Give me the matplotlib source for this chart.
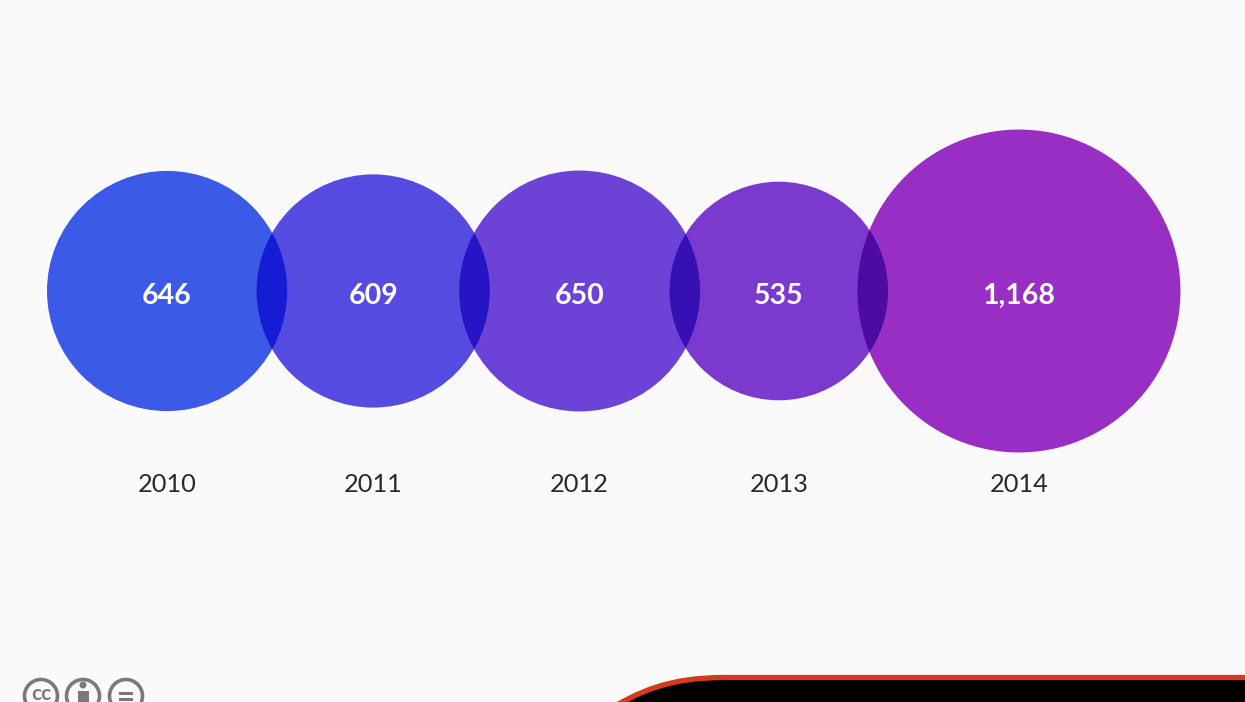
import numpy as np
import matplotlib
matplotlib.use("Agg")
import matplotlib.pyplot as plt
from matplotlib.patches import Circle, PathPatch, Rectangle
from matplotlib.path import Path

years = ["2010", "2011", "2012", "2013", "2014"]
values = [646, 609, 650, 535, 1168]
labels = ["646", "609", "650", "535", "1,168"]
colors = ["#3C5AE8", "#554BE0", "#6D43D7", "#7C39CD", "#982EC3"]

W, H = 1245, 702
BG = "#FAFAFA"
K = 4.725        # pixel radius per sqrt(value): circle area encodes the value
OVERLAP = 30.6
START = 47
CY = 291

plt.rcParams["font.family"] = ["Lato", "Open Sans", "DejaVu Sans"]
fig = plt.figure(figsize=(W / 100, H / 100), dpi=100, facecolor=BG)
ax = fig.add_axes([0, 0, 1, 1])
ax.set_xlim(0, W)
ax.set_ylim(H, 0)
ax.set_aspect("equal")
ax.axis("off")

radii = K * np.sqrt(values)
centers = []
edge = START
for r in radii:
    centers.append(edge + r)
    edge += 2 * r - OVERLAP


def rgb(c):
    return np.array(matplotlib.colors.to_rgb(c))


for x, r, c in zip(centers, radii, colors):
    ax.add_patch(Circle((x, CY), r, fc=c, ec="none", zorder=2))

# multiply-blended lens where neighbouring circles overlap
for i in range(len(values) - 1):
    product = rgb(colors[i]) * rgb(colors[i + 1]) / 0.96
    lens = Circle((centers[i + 1], CY), radii[i + 1], fc=np.clip(product, 0, 1), ec="none", zorder=3)
    ax.add_patch(lens)
    clip = Circle((centers[i], CY), radii[i], transform=ax.transData)
    lens.set_clip_path(clip)

for x, v, y in zip(centers, labels, years):
    ax.text(x, 296, v, color="white", fontsize=20.5, fontweight="bold", ha="center", va="center", zorder=5)
    ax.text(x, 484, y, color="#2A2A2A", fontsize=18.3, ha="center", va="center", zorder=5)

# footer banner, cut by the lower edge of the picture
banner = Path(
    [(600, 715), (640, 690), (670, 677.5), (725, 677.5), (1300, 677.5), (1300, 760), (600, 760), (600, 715)],
    [Path.MOVETO, Path.CURVE4, Path.CURVE4, Path.CURVE4, Path.LINETO, Path.LINETO, Path.LINETO, Path.CLOSEPOLY],
)
ax.add_patch(PathPatch(banner, fc="black", ec="#D43A1E", lw=3.8, zorder=6))

# licence badges
GREY = "#7A7A7A"
for x in [41, 83, 126]:
    ax.add_patch(Circle((x, 696), 16.5, fc="none", ec=GREY, lw=2.6, zorder=6))
ax.text(41, 700, "cc", color=GREY, fontsize=15, fontweight="bold", ha="center", va="baseline", zorder=6)
ax.add_patch(Circle((83, 685), 3.5, fc=GREY, ec="none", zorder=6))
ax.add_patch(Rectangle((77.5, 690.5), 11, 12, fc=GREY, ec="none", zorder=6))
for y in (691.5, 697.5):
    ax.add_patch(Rectangle((119, y), 14, 3.2, fc=GREY, ec="none", zorder=6))

fig.savefig("out.png", dpi=100, facecolor=BG)
